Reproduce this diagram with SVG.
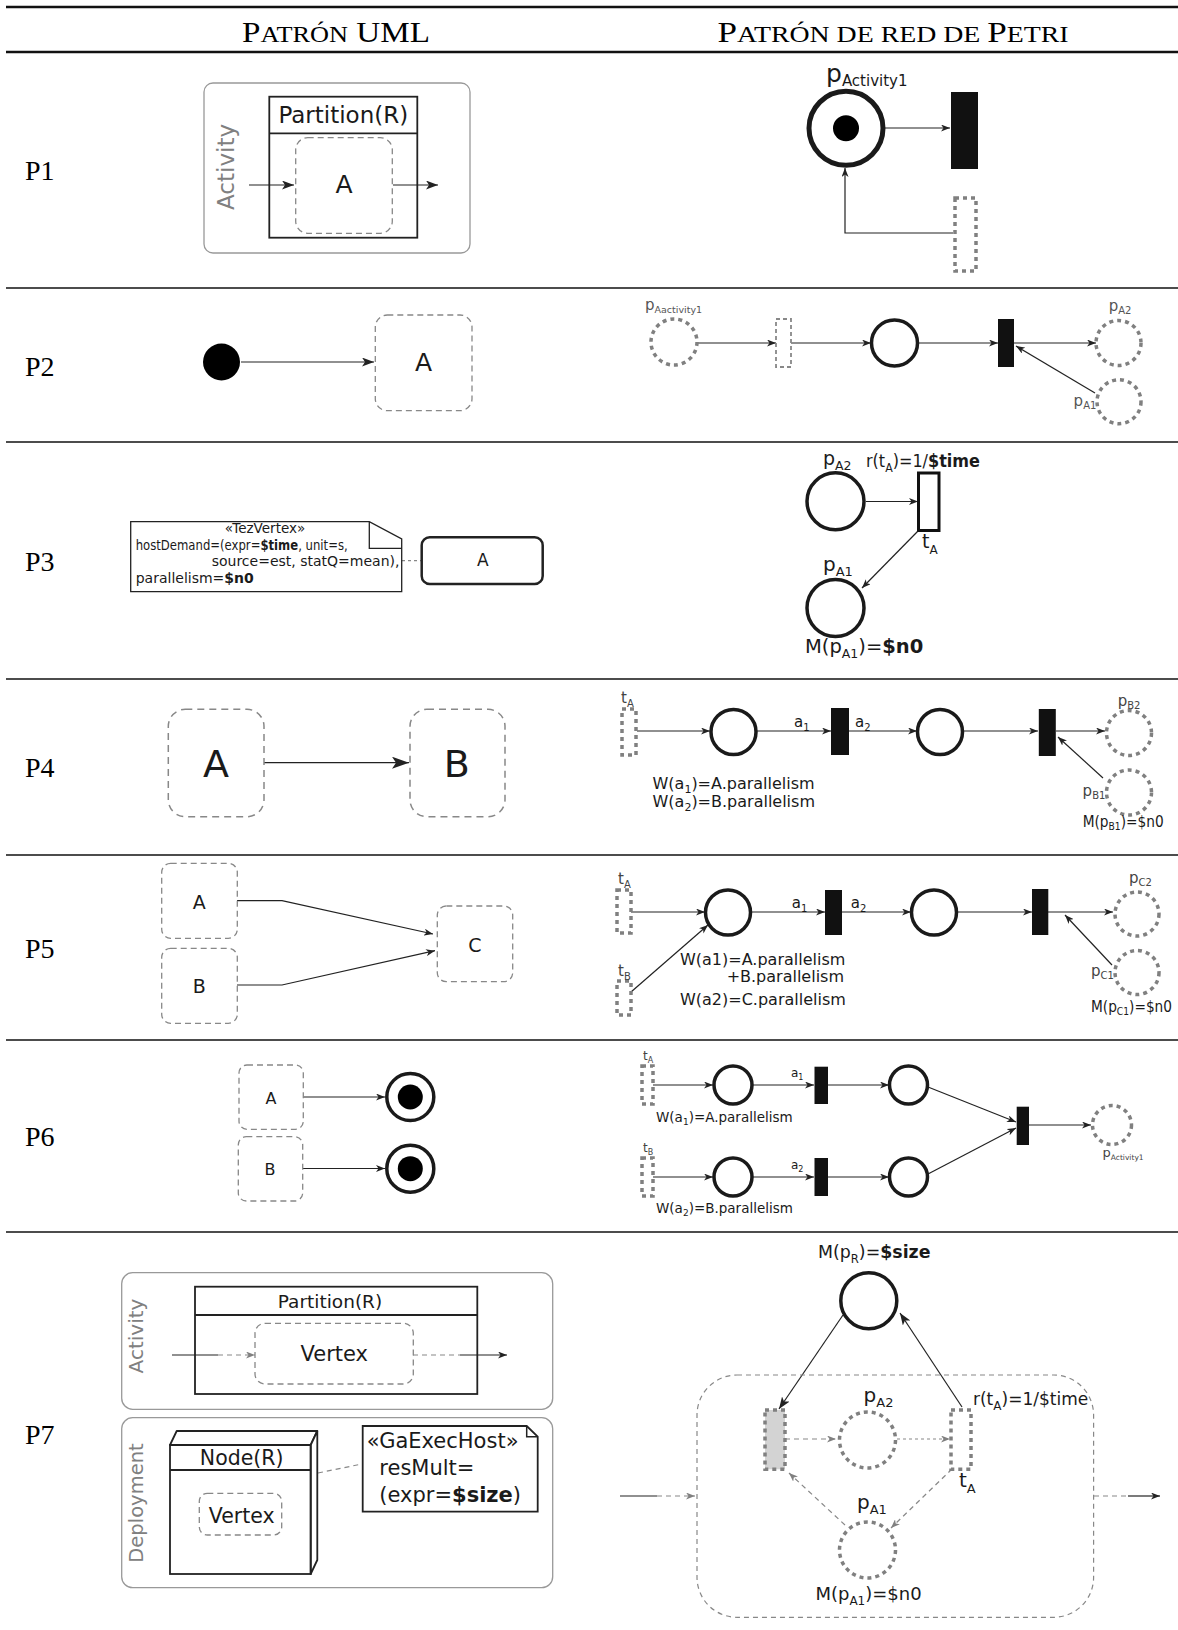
<svg xmlns="http://www.w3.org/2000/svg" width="1178" height="1630" viewBox="0 0 1178 1630">
<style>
text{font-family:"DejaVu Sans","Liberation Sans",sans-serif;fill:#1a1a1a}
.ser{font-family:"Liberation Serif","DejaVu Serif",serif;fill:#000}
.rule{stroke:#111;fill:none}
.ln{stroke:#222;stroke-width:1.2;fill:none}
.lg{stroke:#888;stroke-width:1.2;fill:none;stroke-dasharray:5 4}
.lgd{stroke:#888;stroke-width:1.2;fill:none;stroke-dasharray:3 3}
.frame{fill:none;stroke:#999;stroke-width:1.3}
.ub{fill:none;stroke:#888;stroke-width:1.3;stroke-dasharray:6 4}
.sol{fill:#fff;stroke:#1a1a1a;stroke-width:3.5}
.dp{fill:none;stroke:#808080;stroke-width:3.5;stroke-dasharray:4 4}
.dt{fill:none;stroke:#808080;stroke-width:3.5;stroke-dasharray:4 4}
.bt{fill:#111;stroke:none}
.bx{fill:none;stroke:#222;stroke-width:1.8}
.b{font-weight:bold}
.gr{fill:#808080}
</style>
<defs>
<marker id="a" markerWidth="9" markerHeight="7" refX="9" refY="3.5" orient="auto" markerUnits="userSpaceOnUse"><path d="M0,0 L9,3.5 L0,7 L2.5,3.5 z" fill="#222"/></marker>
<marker id="am" markerWidth="12" markerHeight="9" refX="12" refY="4.5" orient="auto" markerUnits="userSpaceOnUse"><path d="M0,0 L12,4.5 L0,9 L3,4.5 z" fill="#222"/></marker>
<marker id="al" markerWidth="17" markerHeight="12" refX="17" refY="6" orient="auto" markerUnits="userSpaceOnUse"><path d="M0,0 L17,6 L0,12 L4,6 z" fill="#222"/></marker>
<marker id="g" markerWidth="9" markerHeight="7" refX="9" refY="3.5" orient="auto" markerUnits="userSpaceOnUse"><path d="M0,0 L9,3.5 L0,7 L2.5,3.5 z" fill="#808080"/></marker>
</defs>

<g id="table">
<line class="rule" x1="6" y1="7" x2="1178" y2="7" stroke-width="2.6"/>
<line class="rule" x1="6" y1="52" x2="1178" y2="52" stroke-width="2.6"/>
<line class="rule" x1="6" y1="288" x2="1178" y2="288" stroke-width="1.5"/>
<line class="rule" x1="6" y1="442" x2="1178" y2="442" stroke-width="1.5"/>
<line class="rule" x1="6" y1="679" x2="1178" y2="679" stroke-width="1.5"/>
<line class="rule" x1="6" y1="855" x2="1178" y2="855" stroke-width="1.5"/>
<line class="rule" x1="6" y1="1040" x2="1178" y2="1040" stroke-width="1.5"/>
<line class="rule" x1="6" y1="1232" x2="1178" y2="1232" stroke-width="1.5"/>
<text class="ser" x="336" y="42" text-anchor="middle" font-size="29" textLength="188" lengthAdjust="spacingAndGlyphs">P<tspan font-size="23">ATRÓN</tspan> UML</text>
<text class="ser" x="893" y="42" text-anchor="middle" font-size="29" textLength="351" lengthAdjust="spacingAndGlyphs">P<tspan font-size="23">ATRÓN DE RED DE </tspan>P<tspan font-size="23">ETRI</tspan></text>
<text class="ser" x="25" y="180" font-size="28">P1</text>
<text class="ser" x="25" y="376" font-size="28">P2</text>
<text class="ser" x="25" y="571" font-size="28">P3</text>
<text class="ser" x="25" y="777" font-size="28">P4</text>
<text class="ser" x="25" y="958" font-size="28">P5</text>
<text class="ser" x="25" y="1146" font-size="28">P6</text>
<text class="ser" x="25" y="1444" font-size="28">P7</text>
</g>

<g id="connectors">
<path class="ln" d="M249,185 H294" marker-end="url(#am)"/>
<path class="ln" d="M393,185 H438" marker-end="url(#am)"/>
<path class="ln" d="M884,128 H950" marker-end="url(#a)"/>
<path class="ln" d="M953,233 H845 V168" marker-end="url(#a)"/>
<path class="ln" d="M241,362 H374" marker-end="url(#am)"/>
<path class="ln" d="M698,343 H776" marker-end="url(#a)"/>
<path class="ln" d="M791,343 H871" marker-end="url(#a)"/>
<path class="ln" d="M918,343 H998" marker-end="url(#a)"/>
<path class="ln" d="M1014,343 H1096" marker-end="url(#a)"/>
<path class="ln" d="M1095,393 L1016,346" marker-end="url(#a)"/>
<path class="lgd" d="M402,560.7 H421"/>
<path class="ln" d="M866,501.5 H918" marker-end="url(#a)"/>
<path class="ln" d="M918,531 L862,588" marker-end="url(#a)"/>
<path class="ln" d="M264,762.7 H409" stroke-width="1.6" marker-end="url(#al)"/>
<path class="ln" d="M637,731 H710" marker-end="url(#a)"/>
<path class="ln" d="M756,731 H831" marker-end="url(#a)"/>
<path class="ln" d="M849,731 H917" marker-end="url(#a)"/>
<path class="ln" d="M963,731 H1038" marker-end="url(#a)"/>
<path class="ln" d="M1056,731 H1105" marker-end="url(#a)"/>
<path class="ln" d="M1103,778 L1058,737" marker-end="url(#a)"/>
<path class="ln" d="M237,900.7 H282 L433,934" marker-end="url(#a)"/>
<path class="ln" d="M237,985 H282 L435,950.7" marker-end="url(#a)"/>
<path class="ln" d="M631,912 H705" marker-end="url(#a)"/>
<path class="ln" d="M631,992 L708,925" marker-end="url(#a)"/>
<path class="ln" d="M751,912 H825" marker-end="url(#a)"/>
<path class="ln" d="M842,912 H911" marker-end="url(#a)"/>
<path class="ln" d="M957,912 H1032" marker-end="url(#a)"/>
<path class="ln" d="M1048,912 H1113" marker-end="url(#a)"/>
<path class="ln" d="M1112,965 L1065,915" marker-end="url(#a)"/>
<path class="ln" d="M303,1097 H385" marker-end="url(#a)"/>
<path class="ln" d="M303,1168.5 H385" marker-end="url(#a)"/>
<path class="ln" d="M653,1085 H713" marker-end="url(#a)"/>
<path class="ln" d="M752,1085 H814" marker-end="url(#a)"/>
<path class="ln" d="M828,1085 H889" marker-end="url(#a)"/>
<path class="ln" d="M653,1177 H713" marker-end="url(#a)"/>
<path class="ln" d="M752,1177 H814" marker-end="url(#a)"/>
<path class="ln" d="M828,1177 H889" marker-end="url(#a)"/>
<path class="ln" d="M928,1087 L1016,1122" marker-end="url(#a)"/>
<path class="ln" d="M928,1174 L1016,1128" marker-end="url(#a)"/>
<path class="ln" d="M1029,1125 H1091" marker-end="url(#a)"/>
<path class="ln" d="M172,1355 H218" stroke="#444"/>
<path class="lg" d="M218,1355 H255" marker-end="url(#g)"/>
<path class="lg" d="M413,1355 H460"/>
<path class="ln" d="M460,1355 H507" stroke="#444" marker-end="url(#a)"/>
<path class="lg" d="M318,1473 L362,1464" stroke="#333"/>
<path class="ln" d="M843,1315 L779,1409" marker-end="url(#am)"/>
<path class="ln" d="M962,1407 L900,1313" marker-end="url(#am)"/>
<path class="lg" d="M785,1439 H836" marker-end="url(#g)"/>
<path class="lgd" d="M897,1439 H950" marker-end="url(#g)"/>
<path class="lg" d="M952,1469 L891,1528" marker-end="url(#g)"/>
<path class="lg" d="M845,1525 L789,1473" marker-end="url(#g)"/>
<path class="ln" d="M620,1496 H657" stroke="#666"/>
<path class="lg" d="M657,1496 H695" marker-end="url(#g)"/>
<path class="lg" d="M1094,1496 H1128"/>
<path class="ln" d="M1128,1496 H1160" stroke="#555" marker-end="url(#a)"/>
</g>

<g id="p1-activity">
<rect class="frame" x="204" y="83" width="266" height="170" rx="9"/>
<text transform="translate(234,167) rotate(-90)" text-anchor="middle" font-size="23" class="gr">Activity</text>
</g>
<g id="p1-partition">
<rect class="bx" x="269.3" y="96.7" width="148" height="141"/>
<line class="bx" x1="269.3" y1="133.3" x2="417.3" y2="133.3"/>
<text x="343.3" y="123" text-anchor="middle" font-size="23">Partition(R)</text>
</g>
<g id="p1-A">
<rect class="ub" x="295.7" y="137.7" width="96.6" height="95.6" rx="12"/>
<text x="344" y="193" text-anchor="middle" font-size="25">A</text>
</g>
<g id="p1-place">
<circle cx="846" cy="128.3" r="37" fill="#fff" stroke="#1a1a1a" stroke-width="5"/>
<circle cx="846" cy="128.3" r="13" fill="#000"/>
<text x="826" y="82" font-size="25">p<tspan font-size="15" dy="4">Activity1</tspan></text>
</g>
<g id="p1-trans"><rect class="bt" x="951" y="92" width="27" height="77"/></g>
<g id="p1-trans-d"><rect class="dt" x="955" y="198" width="21" height="73"/></g>

<g id="p2-initial"><circle cx="221.5" cy="362" r="18.5" fill="#000"/></g>
<g id="p2-A">
<rect class="ub" x="375.3" y="315" width="96.7" height="95.7" rx="12"/>
<text x="423.5" y="371" text-anchor="middle" font-size="25">A</text>
</g>
<g id="p2-pact">
<circle class="dp" cx="674" cy="342" r="23"/>
<text x="645" y="310" font-size="15" style="fill:#555">p<tspan font-size="9.5" dy="3">Aactivity1</tspan></text>
</g>
<g id="p2-t1"><rect x="776" y="319" width="15" height="48" fill="none" stroke="#888" stroke-width="1.8" stroke-dasharray="4 3"/></g>
<g id="p2-p"><circle class="sol" cx="894.5" cy="343" r="23" stroke-width="3"/></g>
<g id="p2-t2"><rect class="bt" x="998" y="319" width="16" height="48"/></g>
<g id="p2-pA2">
<circle class="dp" cx="1118.5" cy="343" r="22.5"/>
<text x="1108.7" y="311" font-size="15" style="fill:#555">p<tspan font-size="10" dy="3">A2</tspan></text>
</g>
<g id="p2-pA1">
<circle class="dp" cx="1119" cy="401.7" r="22"/>
<text x="1073.6" y="406" font-size="15" style="fill:#555">p<tspan font-size="10" dy="3">A1</tspan></text>
</g>

<g id="p3-note">
<path d="M130.7,521.7 H369.3 L401.7,539 V591.7 H130.7 Z" fill="#fff" stroke="#222" stroke-width="1.3"/>
<path d="M369.3,521.7 V548.3 H401.7" fill="none" stroke="#222" stroke-width="1.3"/>
<text x="265" y="532.5" text-anchor="middle" font-size="13.5">«TezVertex»</text>
<text x="135.7" y="549.5" font-size="13.5" textLength="212" lengthAdjust="spacingAndGlyphs">hostDemand=(expr=<tspan class="b">$time</tspan>, unit=s,</text>
<text x="211.7" y="566" font-size="14">source=est, statQ=mean),</text>
<text x="135.7" y="582.5" font-size="14">parallelism=<tspan class="b">$n0</tspan></text>
</g>
<g id="p3-A">
<rect x="421.7" y="537.3" width="121" height="46.7" rx="8" fill="#fff" stroke="#222" stroke-width="2.5"/>
<text x="482.7" y="566" text-anchor="middle" font-size="17">A</text>
</g>
<g id="p3-pA2">
<circle class="sol" cx="835.5" cy="501.3" r="28.5"/>
<text x="823" y="465" font-size="19">p<tspan font-size="12.5" dy="5">A2</tspan></text>
</g>
<g id="p3-tA">
<rect x="918.5" y="473" width="20.5" height="57.5" fill="#fff" stroke="#111" stroke-width="3"/>
<text x="866" y="467" font-size="17.5" textLength="114" lengthAdjust="spacingAndGlyphs">r(t<tspan font-size="12" dy="5">A</tspan><tspan dy="-5">)=1/</tspan><tspan class="b">$time</tspan></text>
<text x="922" y="548" font-size="19">t<tspan font-size="12" dy="6">A</tspan></text>
</g>
<g id="p3-pA1">
<circle class="sol" cx="835.5" cy="608" r="28.5"/>
<text x="823" y="571" font-size="20">p<tspan font-size="13" dy="5">A1</tspan></text>
<text x="805" y="653" font-size="19.5">M(p<tspan font-size="12.5" dy="5">A1</tspan><tspan dy="-5">)=</tspan><tspan class="b">$n0</tspan></text>
</g>

<g id="p4-A">
<rect x="168.3" y="709.3" width="95.7" height="107.4" rx="17" fill="none" stroke="#888" stroke-width="1.5" stroke-dasharray="7 5"/>
<text x="216" y="776.7" text-anchor="middle" font-size="38">A</text>
</g>
<g id="p4-B">
<rect x="410" y="709.3" width="95" height="107.4" rx="17" fill="none" stroke="#888" stroke-width="1.5" stroke-dasharray="7 5"/>
<text x="456.7" y="776.7" text-anchor="middle" font-size="38">B</text>
</g>
<g id="p4-tA">
<rect class="dt" x="622" y="709" width="14" height="46" stroke-width="3"/>
<text x="621" y="703" font-size="15" style="fill:#444">t<tspan font-size="10" dy="4">A</tspan></text>
</g>
<g id="p4-p1"><circle class="sol" cx="733.5" cy="732" r="22.5" stroke-width="3"/></g>
<g id="p4-t1">
<rect class="bt" x="831" y="708" width="18" height="47" fill="#222"/>
<text x="794" y="727" font-size="15">a<tspan font-size="10" dy="4">1</tspan></text>
<text x="855" y="727" font-size="15">a<tspan font-size="10" dy="4">2</tspan></text>
</g>
<g id="p4-p2"><circle class="sol" cx="940" cy="732" r="22.5" stroke-width="3"/></g>
<g id="p4-t2"><rect class="bt" x="1038.8" y="709" width="17" height="47" fill="#222"/></g>
<g id="p4-pB2">
<circle class="dp" cx="1129" cy="733" r="22.5"/>
<text x="1117.7" y="706" font-size="15" style="fill:#444">p<tspan font-size="10" dy="3">B2</tspan></text>
</g>
<g id="p4-pB1">
<circle class="dp" cx="1129" cy="792.5" r="22.5"/>
<text x="1082.6" y="796" font-size="15" style="fill:#444">p<tspan font-size="10" dy="3">B1</tspan></text>
<text x="1082.7" y="826.7" font-size="15" textLength="81" lengthAdjust="spacingAndGlyphs">M(p<tspan font-size="10" dy="3">B1</tspan><tspan dy="-3">)=$n0</tspan></text>
</g>
<g id="p4-w">
<text x="652.5" y="789" font-size="16">W(a<tspan font-size="11" dy="4">1</tspan><tspan dy="-4">)=A.parallelism</tspan></text>
<text x="652.5" y="807" font-size="16">W(a<tspan font-size="11" dy="4">2</tspan><tspan dy="-4">)=B.parallelism</tspan></text>
</g>

<g id="p5-A"><rect class="ub" x="161.7" y="863.3" width="75.6" height="75" rx="9"/><text x="199.3" y="909.3" text-anchor="middle" font-size="19">A</text></g>
<g id="p5-B"><rect class="ub" x="161.7" y="948.3" width="75.6" height="75" rx="9"/><text x="199.3" y="993.3" text-anchor="middle" font-size="19">B</text></g>
<g id="p5-C"><rect class="ub" x="437.3" y="906" width="75.4" height="75.7" rx="9"/><text x="475" y="951.7" text-anchor="middle" font-size="19">C</text></g>
<g id="p5-tA">
<rect class="dt" x="617" y="890" width="14" height="43" stroke-width="3"/>
<text x="618" y="884" font-size="15" style="fill:#444">t<tspan font-size="10" dy="4">A</tspan></text>
</g>
<g id="p5-tB">
<rect class="dt" x="617" y="981" width="14" height="34" stroke-width="3"/>
<text x="618" y="976" font-size="15" style="fill:#444">t<tspan font-size="10" dy="4">B</tspan></text>
</g>
<g id="p5-p1"><circle class="sol" cx="728" cy="912.5" r="22.5" stroke-width="3"/></g>
<g id="p5-t1">
<rect class="bt" x="825" y="890" width="17" height="45" fill="#222"/>
<text x="791.7" y="908" font-size="15">a<tspan font-size="10" dy="4">1</tspan></text>
<text x="850.8" y="908" font-size="15">a<tspan font-size="10" dy="4">2</tspan></text>
</g>
<g id="p5-p2"><circle class="sol" cx="934" cy="912.5" r="22.5" stroke-width="3"/></g>
<g id="p5-t2"><rect class="bt" x="1032" y="889" width="16.3" height="46" fill="#222"/></g>
<g id="p5-pC2">
<circle class="dp" cx="1137" cy="914" r="22"/>
<text x="1129" y="883" font-size="15" style="fill:#444">p<tspan font-size="10" dy="3">C2</tspan></text>
</g>
<g id="p5-pC1">
<circle class="dp" cx="1137" cy="972.5" r="22"/>
<text x="1091" y="976" font-size="15" style="fill:#444">p<tspan font-size="10" dy="3">C1</tspan></text>
<text x="1091" y="1011.7" font-size="15" textLength="81" lengthAdjust="spacingAndGlyphs">M(p<tspan font-size="10" dy="3">C1</tspan><tspan dy="-3">)=$n0</tspan></text>
</g>
<g id="p5-w">
<text x="680" y="965" font-size="16">W(a1)=A.parallelism</text>
<text x="844" y="981.7" font-size="16" text-anchor="end">+B.parallelism</text>
<text x="680" y="1005" font-size="16">W(a2)=C.parallelism</text>
</g>

<g id="p6-A"><rect class="ub" x="239" y="1065" width="64.3" height="64.3" rx="8"/><text x="271" y="1104.3" text-anchor="middle" font-size="16">A</text></g>
<g id="p6-B"><rect class="ub" x="238.3" y="1136.7" width="64.4" height="64.3" rx="8"/><text x="270" y="1175" text-anchor="middle" font-size="16">B</text></g>
<g id="p6-finA"><circle cx="410.3" cy="1097" r="23.5" fill="#fff" stroke="#1a1a1a" stroke-width="3.5"/><circle cx="410.3" cy="1097" r="12.5" fill="#000"/></g>
<g id="p6-finB"><circle cx="410.3" cy="1168.7" r="23.5" fill="#fff" stroke="#1a1a1a" stroke-width="3.5"/><circle cx="410.3" cy="1168.7" r="12.5" fill="#000"/></g>
<g id="p6-tA">
<rect class="dt" x="642" y="1066" width="11" height="38" stroke-width="2.5" stroke-dasharray="3 3"/>
<text x="643" y="1060" font-size="12" style="fill:#444">t<tspan font-size="8" dy="3">A</tspan></text>
</g>
<g id="p6-tB">
<rect class="dt" x="642" y="1158" width="11" height="38" stroke-width="2.5" stroke-dasharray="3 3"/>
<text x="643" y="1152" font-size="12" style="fill:#444">t<tspan font-size="8" dy="3">B</tspan></text>
</g>
<g id="p6-pA1"><circle class="sol" cx="733" cy="1085" r="19" stroke-width="2.5"/></g>
<g id="p6-pB1"><circle class="sol" cx="733" cy="1177" r="19" stroke-width="2.5"/></g>
<g id="p6-tA1"><rect class="bt" x="814.5" y="1066.7" width="13.5" height="37.3"/><text x="791" y="1077" font-size="12">a<tspan font-size="8" dy="3">1</tspan></text></g>
<g id="p6-tB1"><rect class="bt" x="814.5" y="1158" width="13.5" height="38"/><text x="791" y="1169" font-size="12">a<tspan font-size="8" dy="3">2</tspan></text></g>
<g id="p6-pA2"><circle class="sol" cx="908.5" cy="1085" r="19" stroke-width="2.5"/></g>
<g id="p6-pB2"><circle class="sol" cx="908.5" cy="1177" r="19" stroke-width="2.5"/></g>
<g id="p6-join"><rect class="bt" x="1016.7" y="1106.7" width="12.3" height="38.3"/></g>
<g id="p6-pact">
<circle class="dp" cx="1112" cy="1125" r="19.5" stroke-width="2.5" stroke-dasharray="3 3"/>
<text x="1102.5" y="1157" font-size="13" style="fill:#444">p<tspan font-size="7.5" dy="3">Activity1</tspan></text>
</g>
<g id="p6-w">
<text x="656" y="1121.7" font-size="13.5">W(a<tspan font-size="9" dy="3">1</tspan><tspan dy="-3">)=A.parallelism</tspan></text>
<text x="656" y="1213.3" font-size="13.5">W(a<tspan font-size="9" dy="3">2</tspan><tspan dy="-3">)=B.parallelism</tspan></text>
</g>

<g id="p7-activity">
<rect class="frame" x="121.7" y="1272.7" width="431" height="136.6" rx="11"/>
<text transform="translate(143,1336) rotate(-90)" text-anchor="middle" font-size="20" class="gr">Activity</text>
</g>
<g id="p7-partition">
<rect class="bx" x="195" y="1286.7" width="282.3" height="107.3"/>
<line class="bx" x1="195" y1="1315" x2="477.3" y2="1315"/>
<text x="330" y="1308.3" text-anchor="middle" font-size="18.5">Partition(R)</text>
</g>
<g id="p7-vertex">
<rect class="ub" x="255" y="1323.3" width="158.3" height="60.7" rx="10"/>
<text x="334.3" y="1360.7" text-anchor="middle" font-size="21">Vertex</text>
</g>
<g id="p7-deployment">
<rect class="frame" x="121.7" y="1417.7" width="431" height="170" rx="11"/>
<text transform="translate(143,1503) rotate(-90)" text-anchor="middle" font-size="19.5" class="gr">Deployment</text>
</g>
<g id="p7-node">
<path d="M170,1445 L176.7,1431 H317.3 L310.7,1445 Z" fill="#fff" stroke="#222" stroke-width="1.8" stroke-linejoin="round"/>
<path d="M310.7,1445 L317.3,1431 V1560 L310.7,1574 Z" fill="#fff" stroke="#222" stroke-width="1.8" stroke-linejoin="round"/>
<rect class="bx" x="170" y="1445" width="140.7" height="129"/>
<line class="bx" x1="170" y1="1470" x2="310.7" y2="1470"/>
<text x="241.7" y="1465" text-anchor="middle" font-size="20.5">Node(R)</text>
<rect class="ub" x="199.3" y="1493.3" width="82.4" height="41.7" rx="8"/>
<text x="241.7" y="1522.7" text-anchor="middle" font-size="20.5">Vertex</text>
</g>
<g id="p7-note">
<path d="M362.7,1426 H526.7 L537.7,1436.7 V1511.7 H362.7 Z" fill="#fff" stroke="#222" stroke-width="1.8"/>
<path d="M526.7,1426 V1436.7 H537.7" fill="none" stroke="#222" stroke-width="1.5"/>
<text x="366.7" y="1448.3" font-size="21">«GaExecHost»</text>
<text x="379.3" y="1475" font-size="21">resMult=</text>
<text x="379.3" y="1501.7" font-size="21">(expr=<tspan class="b">$size</tspan>)</text>
</g>

<g id="p7-pR">
<circle class="sol" cx="868.8" cy="1300.8" r="28" stroke-width="4"/>
<text x="818" y="1258.3" font-size="18" textLength="112.5" lengthAdjust="spacingAndGlyphs">M(p<tspan font-size="12" dy="5">R</tspan><tspan dy="-5">)=</tspan><tspan class="b">$size</tspan></text>
</g>
<g id="p7-subnet"><rect x="697" y="1375" width="396.6" height="242.3" rx="40" fill="none" stroke="#888" stroke-width="1.2" stroke-dasharray="5 4"/></g>
<g id="p7-tin"><rect x="765" y="1410" width="20" height="59.3" fill="#d3d3d3" stroke="#808080" stroke-width="3.5" stroke-dasharray="4 4"/></g>
<g id="p7-pA2">
<circle class="dp" cx="867.5" cy="1440" r="28"/>
<text x="863.6" y="1402" font-size="20">p<tspan font-size="13" dy="5">A2</tspan></text>
</g>
<g id="p7-tA">
<rect class="dt" x="951" y="1410" width="20" height="59.3"/>
<text x="973" y="1405" font-size="17">r(t<tspan font-size="12" dy="5">A</tspan><tspan dy="-5">)=1/$time</tspan></text>
<text x="959" y="1487" font-size="20">t<tspan font-size="13" dy="6">A</tspan></text>
</g>
<g id="p7-pA1">
<circle class="dp" cx="867.5" cy="1550" r="28"/>
<text x="857" y="1509" font-size="20">p<tspan font-size="13" dy="5">A1</tspan></text>
<text x="815.4" y="1600" font-size="18">M(p<tspan font-size="12" dy="5">A1</tspan><tspan dy="-5">)=$n0</tspan></text>
</g>
</svg>
